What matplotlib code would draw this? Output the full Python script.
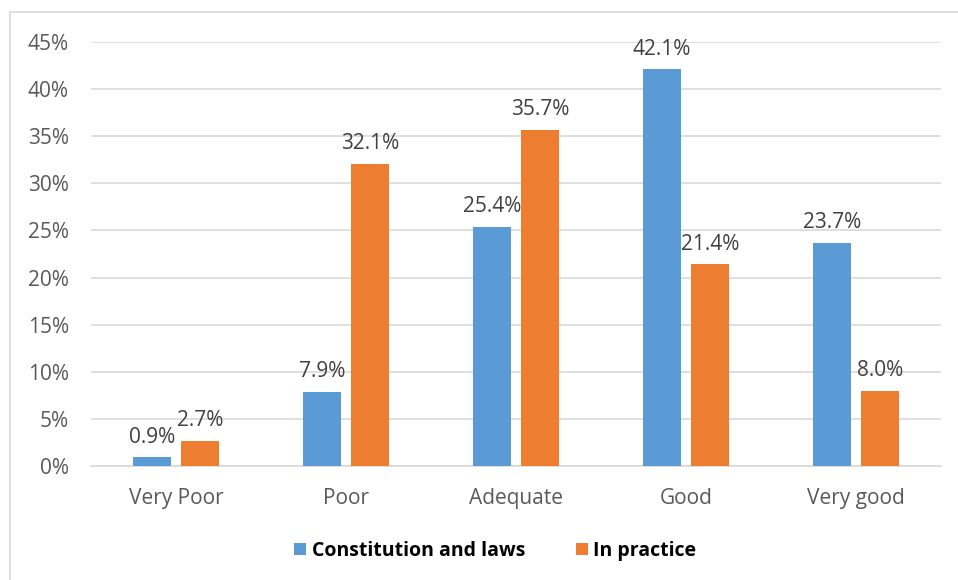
import matplotlib
matplotlib.use("Agg")

import matplotlib.pyplot as plt
import numpy as np
from matplotlib.patches import Rectangle

categories = ["Very Poor", "Poor", "Adequate", "Good", "Very good"]
constitution = [0.9, 7.9, 25.4, 42.1, 23.7]
practice = [2.7, 32.1, 35.7, 21.4, 8.0]
yticks = [0, 5, 10, 15, 20, 25, 30, 35, 40, 45]

BLUE = "#5B9BD5"
ORANGE = "#ED7D31"

plt.rcParams["font.family"] = ["Open Sans", "DejaVu Sans"]

fig = plt.figure(figsize=(9.58, 5.8), dpi=100)
ax = fig.add_axes([0.095, 0.1966, 0.887, 0.731])

# chart frame (left/top edges only visible)
fig.patches.append(Rectangle((10 / 958, -0.1), 1.2, 1 - 12 / 580 + 0.1,
                             transform=fig.transFigure, fill=False,
                             edgecolor="#d9d9d9", linewidth=1.2))

x = np.arange(len(categories))
w = 0.224
off = (w + 0.059) / 2
b1 = ax.bar(x - off, constitution, w, color=BLUE, label="Constitution and laws", zorder=3)
b2 = ax.bar(x + off, practice, w, color=ORANGE, label="In practice", zorder=3)

for bars, vals in ((b1, constitution), (b2, practice)):
    for rect, v in zip(bars, vals):
        ax.annotate(f"{v:.1f}%", (rect.get_x() + rect.get_width() / 2, v),
                    xytext=(0, 7), textcoords="offset points",
                    ha="center", va="bottom", fontsize=15, color="#404040")

ax.set_xlim(-0.5, len(categories) - 0.5)
ax.set_ylim(0, 45)
ax.set_yticks(yticks)
ax.set_yticklabels([f"{t}%" for t in yticks])
ax.set_xticks(x)
ax.set_xticklabels(categories)
ax.tick_params(axis="both", length=0, labelsize=15, colors="#595959")
ax.tick_params(axis="y", pad=16)
ax.tick_params(axis="x", pad=16)
ax.grid(axis="y", color="#d9d9d9", linewidth=1.2, zorder=0)
for s in ("top", "right", "left"):
    ax.spines[s].set_visible(False)
ax.spines["bottom"].set_color("#d9d9d9")
ax.spines["bottom"].set_linewidth(1.2)

ax.legend(loc="center", bbox_to_anchor=(0.476, -0.2), ncol=2, frameon=False,
          prop={"weight": "bold", "size": 14}, handlelength=0.6, handleheight=0.6,
          handletextpad=0.3, columnspacing=2.6)

fig.savefig("out.png", dpi=100)
